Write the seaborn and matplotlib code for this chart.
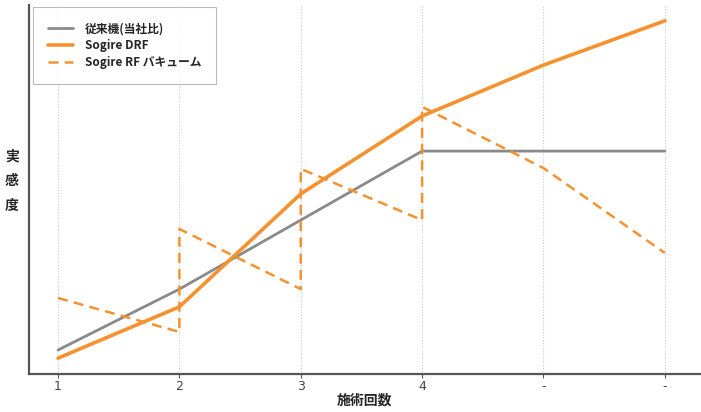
import numpy as np
import pandas as pd
import seaborn as sns
from matplotlib import pyplot as plt

# データ
sessions = [1, 2, 3, 4, 5, 6]
tick_labels = ["1", "2", "3", "4", "-", "-"]
conventional = [6.5, 23.0, 41.7, 60.4, 60.4, 60.4]
drf = [4.3, 18.2, 48.8, 69.9, 83.7, 95.7]
# バキュームは各回で跳ね上がる(同じxに2点)
vac_x = [1, 2, 2, 3, 3, 4, 4, 5, 6]
vac_y = [20.6, 11.4, 39.3, 23.0, 55.6, 41.7, 72.4, 55.8, 32.8]

ORANGE = "#f5922f"
GREY = "#8a8a8a"

sns.set_style("white")
plt.rcParams['font.family'] = ['Noto Sans CJK JP', 'DejaVu Sans']

fig = plt.figure(figsize=(7.01, 4.12), dpi=100)
ax = fig.add_axes([0.0414, 0.0922, 0.9572, 0.8958])

df_line = pd.DataFrame({"x": sessions, "従来機(当社比)": conventional, "Sogire DRF": drf})
sns.lineplot(data=df_line, x="x", y="従来機(当社比)", color=GREY, lw=2, ax=ax,
             label="従来機(当社比)")
sns.lineplot(data=df_line, x="x", y="Sogire DRF", color=ORANGE, lw=2.6, ax=ax,
             label="Sogire DRF")
# 同じxの点を順番通りに結ぶため sort=False
sns.lineplot(x=vac_x, y=vac_y, sort=False, estimator=None, color=ORANGE, lw=1.8,
             ls=(0, (4, 2.5)), ax=ax, label="Sogire RF バキューム")

ax.set_xlim(0.761, 6.29)
ax.set_ylim(0, 100)
ax.set_xticks(sessions)
ax.set_xticklabels(tick_labels, color="#444444", fontsize=9, family="DejaVu Sans")
ax.set_yticks([])
ax.tick_params(axis="x", length=3, width=0.8, color="#555555", direction="out",
               bottom=True, pad=1)
for x in sessions:
    ax.axvline(x, color="#cccccc", lw=0.8, ls=(0, (1, 1.5)), zorder=0)

sns.despine(ax=ax, top=True, right=True)
ax.spines['left'].set_color("#555555")
ax.spines['left'].set_linewidth(1.6)
ax.spines['bottom'].set_color("#555555")
ax.spines['bottom'].set_linewidth(1.6)

ax.set_xlabel("施術回数", fontsize=10, fontweight="bold", labelpad=1)
ax.set_ylabel("")
fig.text(0.017, 0.56, "実\n感\n度", fontsize=10, fontweight="bold",
         ha="center", va="center", linespacing=2.0)

leg = ax.legend(loc="upper left", bbox_to_anchor=(0.003, 1.0), frameon=True,
                fancybox=False, edgecolor="#aaaaaa", fontsize=8.5,
                handlelength=2.1, borderpad=1.25, labelspacing=0.35, handletextpad=1.0,
                borderaxespad=0.2)
leg.get_frame().set_linewidth(0.8)
for t in leg.get_texts():
    t.set_fontweight("bold")

fig.savefig("out.png", dpi=100)
